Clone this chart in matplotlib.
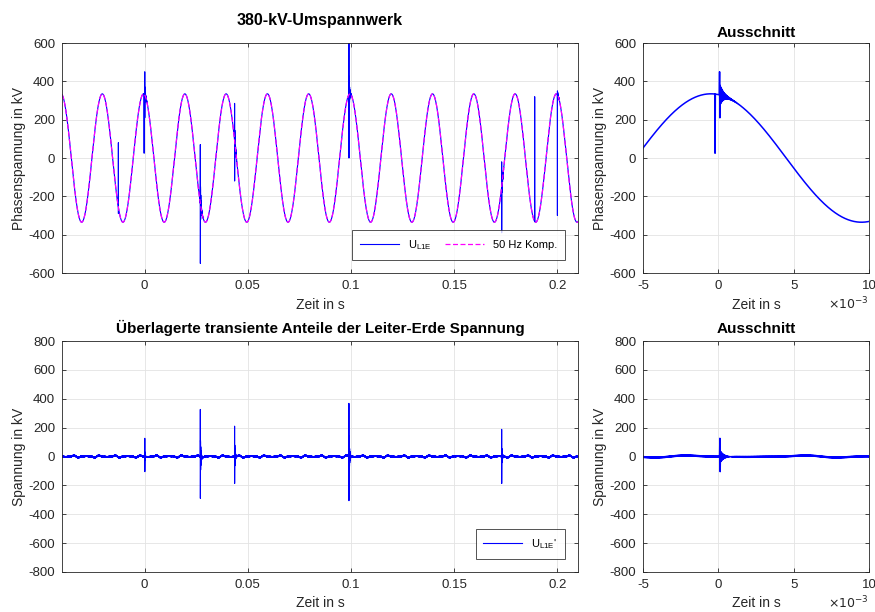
import numpy as np
import matplotlib
matplotlib.use("Agg")
import matplotlib.pyplot as plt

plt.rcParams['font.family'] = ['Liberation Sans', 'DejaVu Sans']
plt.rcParams['axes.unicode_minus'] = False

# --- measured quantities ---------------------------------------------------
f_net = 50.0          # Hz
u_amp = 335.0         # kV, peak of the phase voltage
t_peak = -0.5e-3      # s, time of the voltage maximum near t = 0
dt = 2e-5             # s, sampling step
t_start, t_end = -0.04, 0.2102

# transients in the phase voltage U_L1E (time in s, extreme values in kV)
ph_t = [-0.0127, -0.00023, 0.00007, 0.0270, 0.0436, 0.0990, 0.1730, 0.1890, 0.2000]
ph_max = [80, 335, 450, 70, 285, 640, -20, 320, 330]
ph_min = [-290, 25, 210, -550, -120, 0, -390, -210, -300]
ph_ring = [0, 0, 50, 110, 70, 110, 60, 0, 20]

# superimposed transient part U_L1E' (kV)
tr_t = [0.00010, 0.0270, 0.0436, 0.0990, 0.1730]
tr_max = [126, 326, 210, 368, 188]
tr_min = [-105, -290, -187, -306, -187]
tr_ring = [40, 130, 90, 160, 60]

# small harmonic residue in U_L1E' (order, kV)
harm_order = [3, 5, 7]
harm_amp = [4.0, 2.5, 1.5]
ripple = 3.0          # kV, sample-to-sample measurement ripple
tau_ring = 0.25e-3    # s, decay of the ringing after each step

ms_ticks = [-5e-3, 0, 5e-3, 10e-3]
ms_labels = ['-5', '0', '5', '10']
s_ticks = [0, 0.05, 0.1, 0.15, 0.2]
s_labels = ['0', '0.05', '0.1', '0.15', '0.2']


def add_events(t, u, times, umax, umin, ring):
    for te, hi, lo, rg in zip(times, umax, umin, ring):
        i = int(round((te - t[0]) / dt))
        u[i] = hi
        u[i + 1] = lo
        n = int(6 * tau_ring / dt)
        k = np.arange(n)
        u[i + 2:i + 2 + n] += rg * (-1.0) ** k * np.exp(-k * dt / tau_ring)
    return u


t = np.arange(t_start, t_end, dt)
u_50 = u_amp * np.cos(2 * np.pi * f_net * (t - t_peak))
u_ph = add_events(t, u_50.copy(), ph_t, ph_max, ph_min, ph_ring)

u_tr = ripple * (-1.0) ** np.arange(len(t))
for h, a in zip(harm_order, harm_amp):
    u_tr += a * np.sin(2 * np.pi * f_net * h * t + h)
u_tr = add_events(t, u_tr, tr_t, tr_max, tr_min, tr_ring)

# --- figure ---------------------------------------------------------------
fig = plt.figure(figsize=(8.75, 6.12), dpi=100)
ax_tl = fig.add_axes([0.0709, 0.5539, 0.5897, 0.3758])
ax_tr = fig.add_axes([0.7349, 0.5539, 0.2583, 0.3758])
ax_bl = fig.add_axes([0.0709, 0.0654, 0.5897, 0.3774])
ax_br = fig.add_axes([0.7349, 0.0654, 0.2583, 0.3774])

dark = '#262626'


def style(ax):
    ax.grid(True, color='#e3e3e3', lw=0.6)
    ax.set_axisbelow(True)
    ax.tick_params(direction='in', top=True, right=True, length=3,
                   width=0.6, colors=dark, labelsize=9.5, pad=5)
    for s in ax.spines.values():
        s.set_color(dark)
        s.set_linewidth(0.6)


def legend(ax, **kw):
    leg = ax.legend(loc='lower right', fontsize=8, frameon=True, fancybox=False,
                    edgecolor=dark, handlelength=3.5, borderaxespad=1.2,
                    borderpad=0.7, **kw)
    leg.get_frame().set_linewidth(0.7)


def ms_axis(ax):
    ax.set_xlim(-5e-3, 10e-3)
    ax.set_xticks(ms_ticks)
    ax.set_xticklabels(ms_labels)
    ax.text(1.0, -0.135, r'$\times 10^{-3}$', transform=ax.transAxes,
            ha='right', va='center', fontsize=9, color=dark)


# top left: full record
ax_tl.plot(t, u_ph, color='#0000ff', lw=0.8, label='U$_{\\mathregular{L1E}}$')
ax_tl.plot(t, u_50, color='#ff00ff', lw=0.9, ls=(0, (4, 2)), label='50 Hz Komp.')
ax_tl.set_xlim(-0.04, 0.21)
ax_tl.set_ylim(-600, 600)
ax_tl.set_xticks(s_ticks)
ax_tl.set_xticklabels(s_labels)
ax_tl.set_yticks(np.arange(-600, 601, 200))
ax_tl.set_title('380-kV-Umspannwerk', fontsize=11.5, fontweight='bold', pad=13)
ax_tl.set_xlabel('Zeit in s', fontsize=10, color=dark, labelpad=4)
ax_tl.set_ylabel('Phasenspannung in kV', fontsize=10, color=dark, labelpad=2)
legend(ax_tl, ncol=2, columnspacing=1.2)
style(ax_tl)

# top right: zoom around t = 0
ax_tr.plot(t, u_ph, color='#0000ff', lw=1.1)
ms_axis(ax_tr)
ax_tr.set_ylim(-600, 600)
ax_tr.set_yticks(np.arange(-600, 601, 200))
ax_tr.set_title('Ausschnitt', fontsize=11, fontweight='bold', pad=4)
ax_tr.set_xlabel('Zeit in s', fontsize=10, color=dark, labelpad=4)
ax_tr.set_ylabel('Phasenspannung in kV', fontsize=10, color=dark, labelpad=2)
style(ax_tr)

# bottom left: superimposed transients
ax_bl.plot(t, u_tr, color='#0000ff', lw=0.8, label="U$_{\\mathregular{L1E}}$'")
ax_bl.set_xlim(-0.04, 0.21)
ax_bl.set_ylim(-800, 800)
ax_bl.set_xticks(s_ticks)
ax_bl.set_xticklabels(s_labels)
ax_bl.set_yticks(np.arange(-800, 801, 200))
ax_bl.set_title('Überlagerte transiente Anteile der Leiter-Erde Spannung',
                fontsize=11, fontweight='bold', pad=6)
ax_bl.set_xlabel('Zeit in s', fontsize=10, color=dark, labelpad=4)
ax_bl.set_ylabel('Spannung in kV', fontsize=10, color=dark, labelpad=2)
legend(ax_bl)
style(ax_bl)

# bottom right: zoom around t = 0
ax_br.plot(t, u_tr, color='#0000ff', lw=1.1)
ms_axis(ax_br)
ax_br.set_ylim(-800, 800)
ax_br.set_yticks(np.arange(-800, 801, 200))
ax_br.set_title('Ausschnitt', fontsize=11, fontweight='bold', pad=6)
ax_br.set_xlabel('Zeit in s', fontsize=10, color=dark, labelpad=4)
ax_br.set_ylabel('Spannung in kV', fontsize=10, color=dark, labelpad=2)
style(ax_br)

fig.savefig('out.png', dpi=100)
